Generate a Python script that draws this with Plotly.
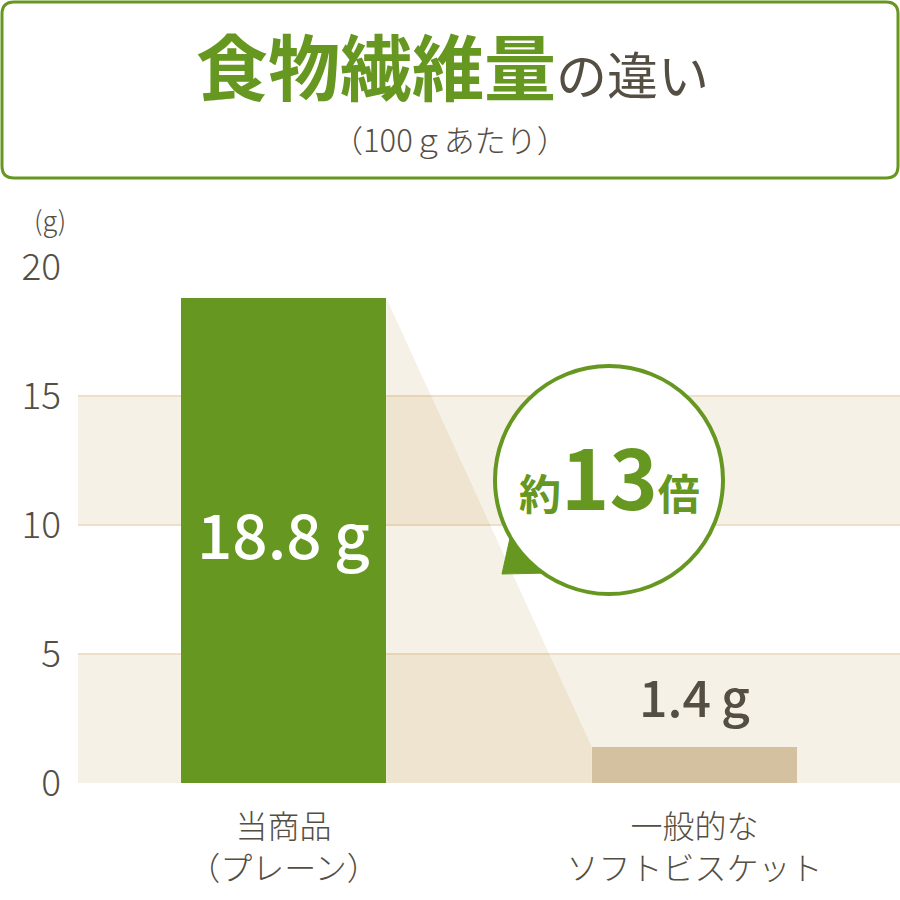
import plotly.graph_objects as go

# data
categories = ["当商品<br>（プレーン）", "一般的な<br>ソフトビスケット"]
values = [18.8, 1.4]
value_labels = ["18.8\u2009g", "1.4\u2009g"]
y_ticks = [0, 5, 10, 15, 20]
ratio_text = "13"

GREEN = "#669720"
TAN = "#d4c19f"
TEXT = "#544e43"
GRID = "#efdfc7"
FONT = "Noto Sans CJK JP"

# plot area in page pixels
L, T, W, H = 78, 267, 822, 516


def px(x):
    return (x - L) / W


def py(y):
    return (T + H - y) / H


xs = list(range(len(values)))
bar_w = 0.5

fig = go.Figure()

# shadow connecting the two bar tops
fig.add_trace(go.Scatter(
    x=[xs[0] + bar_w / 2, xs[1] - bar_w / 2, xs[1] - bar_w / 2, xs[0] + bar_w / 2],
    y=[values[0], values[1], 0, 0],
    fill="toself", mode="lines", line=dict(width=0),
    fillcolor="rgba(165,115,5,0.1)", hoverinfo="skip", showlegend=False,
))

fig.add_trace(go.Bar(
    x=xs, y=values, width=bar_w,
    marker=dict(color=[GREEN, TAN], line=dict(width=0)),
    hoverinfo="skip", showlegend=False,
))

shapes = []
# alternate bands
for i in range(len(y_ticks) - 1):
    if i % 2 == 0:
        shapes.append(dict(type="rect", xref="paper", yref="y", x0=0, x1=1,
                           y0=y_ticks[i], y1=y_ticks[i + 1], layer="below",
                           fillcolor="rgba(165,115,5,0.1)", line=dict(width=0)))

# title box with rounded corners
x0, y0, x1, y1, r = 2, 2, 898, 178, 12
box = (f"M {px(x0 + r)},{py(y0)} L {px(x1 - r)},{py(y0)} Q {px(x1)},{py(y0)} {px(x1)},{py(y0 + r)} "
       f"L {px(x1)},{py(y1 - r)} Q {px(x1)},{py(y1)} {px(x1 - r)},{py(y1)} "
       f"L {px(x0 + r)},{py(y1)} Q {px(x0)},{py(y1)} {px(x0)},{py(y1 - r)} "
       f"L {px(x0)},{py(y0 + r)} Q {px(x0)},{py(y0)} {px(x0 + r)},{py(y0)} Z")
shapes.append(dict(type="path", xref="paper", yref="paper", path=box,
                   line=dict(color=GREEN, width=3), fillcolor="rgba(0,0,0,0)", layer="above"))

# speech bubble
cx, cy, rad = 609, 480, 114
shapes.append(dict(type="path", xref="paper", yref="paper", xsizemode="pixel", ysizemode="pixel",
                   xanchor=px(cx), yanchor=py(cy),
                   path="M -107,-94 L -97,-49 L -60,-93 Z",
                   fillcolor=GREEN, line=dict(color=GREEN, width=1), layer="above"))
shapes.append(dict(type="circle", xref="paper", yref="paper", xsizemode="pixel", ysizemode="pixel",
                   xanchor=px(cx), yanchor=py(cy), x0=-rad, x1=rad, y0=-rad, y1=rad,
                   fillcolor="white", line=dict(color=GREEN, width=4), layer="above"))

annotations = [
    dict(xref="paper", yref="paper", x=px(452), y=py(64), showarrow=False,
         text="<b>食物繊維量</b><span style='font-size:51px;color:%s'>の違い</span>" % TEXT,
         font=dict(family=FONT, size=72, color=GREEN), xanchor="center", yanchor="middle"),
    dict(xref="paper", yref="paper", x=px(450), y=py(138), showarrow=False,
         text="（100ｇあたり）", font=dict(family=FONT, size=31, color=TEXT, weight=300),
         xanchor="center", yanchor="middle"),
    dict(xref="paper", yref="paper", x=px(50), y=py(219), showarrow=False,
         text="(g)", font=dict(family=FONT, size=27, color=TEXT, weight=300),
         xanchor="center", yanchor="middle"),
    dict(x=xs[0], y=values[0] / 2, yshift=8, showarrow=False, text=value_labels[0],
         font=dict(family=FONT, size=62, color="white", weight=500),
         xanchor="center", yanchor="middle"),
    dict(x=xs[1], y=values[1], yshift=14, showarrow=False, text=value_labels[1],
         font=dict(family=FONT, size=50, color=TEXT, weight=500),
         xanchor="center", yanchor="bottom"),
    dict(xref="paper", yref="paper", x=px(cx), y=py(cy - 6), showarrow=False,
         text="<b>約</b><span style='font-size:82px'><b>%s</b></span><b>倍</b>" % ratio_text,
         font=dict(family=FONT, size=42, color=GREEN),
         xanchor="center", yanchor="middle"),
]

fig.update_layout(
    width=900, height=900,
    margin=dict(l=L, r=900 - L - W, t=T, b=900 - T - H, pad=0),
    paper_bgcolor="white", plot_bgcolor="white",
    shapes=shapes, annotations=annotations,
    xaxis=dict(range=[-0.5, 1.5], tickvals=xs, ticktext=categories, showgrid=False,
               zeroline=False, showline=False, ticks="", ticklabelstandoff=22,
               tickfont=dict(family=FONT, size=32, color=TEXT, weight=300), fixedrange=True),
    yaxis=dict(range=[0, 20], tickvals=y_ticks, showgrid=True, gridcolor=GRID, gridwidth=2,
               zeroline=False, showline=False, ticks="", ticklabelstandoff=16,
               tickfont=dict(family=FONT, size=37, color=TEXT, weight=300), fixedrange=True),
    bargap=0,
)

fig.write_html("out.html", config={"displayModeBar": False},
               post_script="document.body.style.margin='0';")
